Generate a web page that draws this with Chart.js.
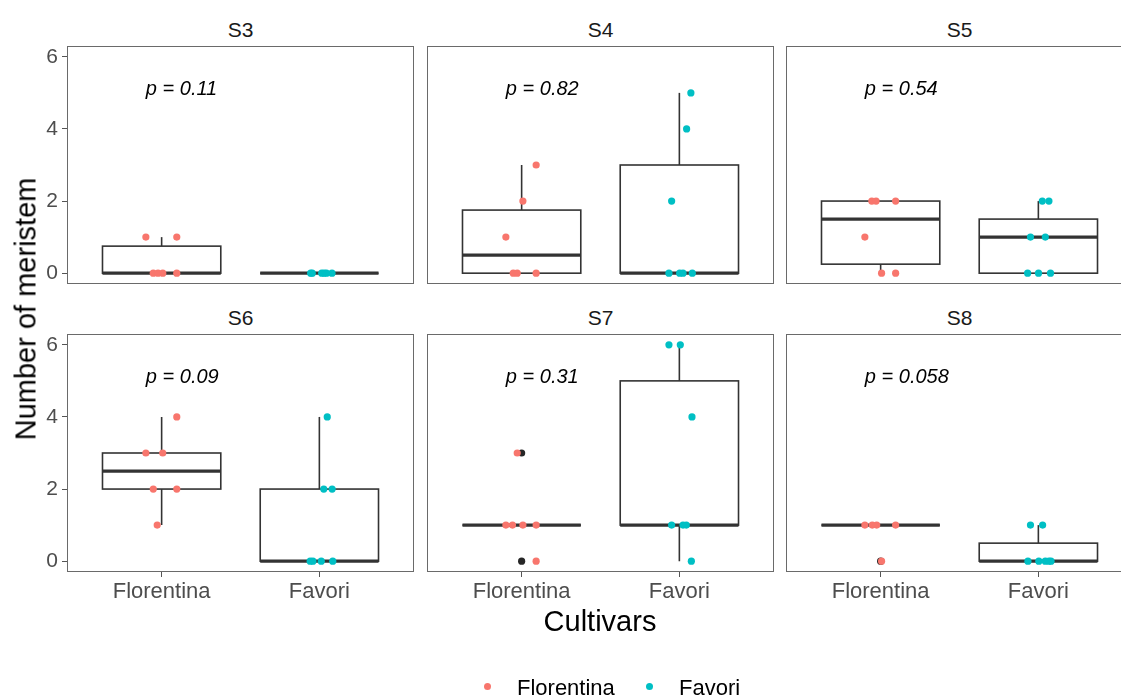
<!DOCTYPE html>
<html><head><meta charset="utf-8">
<script src="https://cdn.jsdelivr.net/npm/chart.js@4.4.1/dist/chart.umd.min.js"></script>
<style>
html,body{margin:0;padding:0;background:#fff;}
#wrap{position:relative;width:1121px;height:698px;overflow:hidden;background:#fff;font-family:"Liberation Sans",Arial,sans-serif;}
canvas{position:absolute;}
.strip{position:absolute;width:347px;text-align:center;font-size:21px;line-height:24px;color:#1a1a1a;}
.ytitle{position:absolute;left:26px;top:309px;transform:translate(-50%,-50%) rotate(-90deg);white-space:nowrap;font-size:29px;line-height:1;color:#000;}
.xtitle{position:absolute;left:600px;top:621px;transform:translate(-50%,-50%);white-space:nowrap;font-size:29px;line-height:1;color:#000;}
.ldot{position:absolute;width:7px;height:7px;border-radius:50%;}
.ltxt{position:absolute;font-size:22px;line-height:1;color:#000;white-space:nowrap;transform:translateY(-50%);}
</style></head><body><div id="wrap"></div>
<script>
// ---------- data ----------
const panels = ['S3','S4','S5','S6','S7','S8'];
const cultivars = ['Florentina','Favori'];
const yTicks = [0,2,4,6];
const xTickValues = [1,2];
const pValues = ['0.11','0.82','0.54','0.09','0.31','0.058'];

// observations per panel (number of meristem)
const floValues = [
  [1,1,0,0,0,0],
  [3,2,1,0,0,0],
  [2,2,2,1,0,0],
  [4,3,3,2,2,1],
  [3,1,1,1,1,0],
  [1,1,1,1,0]
];
const floJitter = [
  [-0.10,0.096,-0.053,-0.023,0.007,0.096],
  [0.092,0.008,-0.10,-0.053,-0.028,0.092],
  [-0.056,-0.029,0.095,-0.10,0.006,0.095],
  [0.096,-0.10,0.007,-0.053,0.096,-0.028],
  [-0.028,-0.10,-0.058,0.008,0.092,0.092],
  [-0.10,-0.053,-0.025,0.095,0.006]
];
const favValues = [
  [0,0,0,0,0,0],
  [5,4,2,0,0,0,0],
  [2,2,1,1,0,0,0],
  [4,2,2,0,0,0,0],
  [6,6,4,1,1,1,0],
  [1,1,0,0,0,0,0]
];
const favJitter = [
  [-0.055,-0.045,0.015,0.03,0.045,0.08],
  [0.073,0.046,-0.049,-0.066,0.002,0.023,0.082],
  [0.025,0.067,-0.05,0.044,-0.068,0.001,0.077],
  [0.05,0.028,0.081,-0.058,-0.041,0.012,0.085],
  [-0.066,0.006,0.08,-0.049,0.023,0.044,0.076],
  [-0.05,0.027,-0.066,0.003,0.044,0.067,0.08]
];
// box statistics [lower whisker, q1, median, q3, upper whisker]
const floBox = [
  [0,0,0,0.75,1],
  [0,0,0.5,1.75,3],
  [0,0.25,1.5,2,2],
  [1,2,2.5,3,4],
  [1,1,1,1,1],
  [1,1,1,1,1]
];
const favBox = [
  [0,0,0,0,0],
  [0,0,0,3,5],
  [0,0,1,1.5,2],
  [0,0,0,2,4],
  [0,1,1,5,6],
  [0,0,0,0.5,1]
];
const floOutliers = [[],[],[],[],[0,3],[0]];
const favOutliers = [[],[],[],[],[],[]];

// ---------- styling ----------
const colFlo = '#F8766D', colFav = '#00BFC4';
const FONT = '"Liberation Sans", Arial, sans-serif';
Chart.defaults.font.family = FONT;

const boxPlugin = {
  id:'boxes',
  beforeDatasetsDraw(chart, args, opts){
    const {ctx} = chart; const x = chart.scales.x, y = chart.scales.y;
    opts.stats.forEach((s,k)=>{
      const c = x.getPixelForValue(xTickValues[k]);
      const l = x.getPixelForValue(xTickValues[k]-opts.width/2);
      const r = x.getPixelForValue(xTickValues[k]+opts.width/2);
      const yMin=y.getPixelForValue(s[0]), yQ1=y.getPixelForValue(s[1]), yMed=y.getPixelForValue(s[2]), yQ3=y.getPixelForValue(s[3]), yMax=y.getPixelForValue(s[4]);
      ctx.save();
      ctx.strokeStyle='#333333'; ctx.lineWidth=1.6; ctx.lineCap='butt';
      ctx.beginPath(); ctx.moveTo(c,yQ3); ctx.lineTo(c,yMax); ctx.moveTo(c,yQ1); ctx.lineTo(c,yMin); ctx.stroke();
      ctx.fillStyle='#ffffff'; ctx.fillRect(l,yQ3,r-l,yQ1-yQ3);
      ctx.strokeRect(l,yQ3,r-l,yQ1-yQ3);
      ctx.lineWidth=3.2; ctx.beginPath(); ctx.moveTo(l,yMed); ctx.lineTo(r,yMed); ctx.stroke();
      ctx.restore();
    });
  }
};
const textPlugin = {
  id:'ptext',
  afterDatasetsDraw(chart, args, opts){
    const {ctx} = chart; const x = chart.scales.x, y = chart.scales.y;
    ctx.save();
    ctx.font = 'italic 20px '+FONT; ctx.fillStyle='#000'; ctx.textAlign='left'; ctx.textBaseline='middle';
    ctx.fillText(opts.text, x.getPixelForValue(0.9), y.getPixelForValue(5.1));
    ctx.restore();
  }
};
const framePlugin = {
  id:'frame',
  afterDraw(chart){
    const a = chart.chartArea, ctx = chart.ctx;
    ctx.save(); ctx.strokeStyle='#6a6a6a'; ctx.lineWidth=1;
    ctx.strokeRect(a.left+0.5,a.top+0.5,a.right-a.left-1,a.bottom-a.top-1);
    ctx.restore();
  }
};

const wrap = document.getElementById('wrap');
const panelLeft = [67,427,786], panelW = 347, panelH = 238, rowTop = [46,334];

panels.forEach((name,i)=>{
  const row = Math.floor(i/3), col = i%3;
  const showX = row===1, showY = col===0;
  const cLeft = showY ? 0 : panelLeft[col];
  const cW = showY ? panelLeft[0]+panelW : panelW;
  const cH = showX ? panelH+50 : panelH;
  const cv = document.createElement('canvas');
  cv.width = cW; cv.height = cH;
  cv.style.left = cLeft+'px'; cv.style.top = rowTop[row]+'px';
  cv.style.width = cW+'px'; cv.style.height = cH+'px';
  wrap.appendChild(cv);

  const strip = document.createElement('div');
  strip.className='strip'; strip.textContent=name;
  strip.style.left = panelLeft[col]+'px'; strip.style.top = (rowTop[row]-28)+'px';
  wrap.appendChild(strip);

  new Chart(cv, {
    type:'scatter',
    data:{datasets:[
      {label:cultivars[0], data:floValues[i].map((v,j)=>({x:xTickValues[0]+floJitter[i][j], y:v})), backgroundColor:colFlo, pointRadius:3.6, pointBorderWidth:0},
      {label:cultivars[1], data:favValues[i].map((v,j)=>({x:xTickValues[1]+favJitter[i][j], y:v})), backgroundColor:colFav, pointRadius:3.6, pointBorderWidth:0},
      {label:'outliers', data:floOutliers[i].map(v=>({x:xTickValues[0],y:v})).concat(favOutliers[i].map(v=>({x:xTickValues[1],y:v}))), backgroundColor:'#262626', pointRadius:3.6, pointBorderWidth:0}
    ]},
    options:{
      responsive:false, animation:false, events:[],
      devicePixelRatio:1,
      layout:{padding:0, autoPadding:false},
      plugins:{legend:{display:false}, tooltip:{enabled:false},
        boxes:{stats:[floBox[i],favBox[i]], width:0.75},
        ptext:{text:'p = '+pValues[i]}},
      scales:{
        x:{type:'linear', min:0.4, max:2.6, display: showX,
          afterBuildTicks:s=>{s.ticks = xTickValues.map(v=>({value:v}));},
          ticks:{callback:(v,idx)=>cultivars[idx], font:{size:22}, color:'#4d4d4d', padding:2, autoSkip:false, maxRotation:0},
          grid:{display:true, drawOnChartArea:false, drawTicks:true, tickLength:5, color:'#555', lineWidth:1},
          border:{display:false},
          afterFit:s=>{ if(showX){ s.height=50; } else { s.height=0; } s.paddingLeft=0; s.paddingRight=0;}},
        y:{type:'linear', min:-0.3, max:6.3, display: showY,
          afterBuildTicks:s=>{s.ticks = yTicks.map(v=>({value:v}));},
          ticks:{font:{size:21}, color:'#4d4d4d', padding:4},
          grid:{display:true, drawOnChartArea:false, drawTicks:true, tickLength:5, color:'#555', lineWidth:1},
          border:{display:false},
          afterFit:s=>{ if(showY){ s.width=67; } else { s.width=0; } s.paddingTop=0; s.paddingBottom=0;}}
      }
    },
    plugins:[boxPlugin,textPlugin,framePlugin]
  });
});

// axis titles and legend
const yt = document.createElement('div'); yt.className='ytitle'; yt.textContent='Number of meristem'; wrap.appendChild(yt);
const xt = document.createElement('div'); xt.className='xtitle'; xt.textContent='Cultivars'; wrap.appendChild(xt);
const legendItems = [{label:cultivars[0], color:colFlo, dx:484, tx:517},{label:cultivars[1], color:colFav, dx:646, tx:679}];
legendItems.forEach(it=>{
  const d=document.createElement('div'); d.className='ldot'; d.style.background=it.color; d.style.left=it.dx+'px'; d.style.top='683px'; wrap.appendChild(d);
  const t=document.createElement('div'); t.className='ltxt'; t.textContent=it.label; t.style.left=it.tx+'px'; t.style.top='688px'; wrap.appendChild(t);
});
</script></body></html>
